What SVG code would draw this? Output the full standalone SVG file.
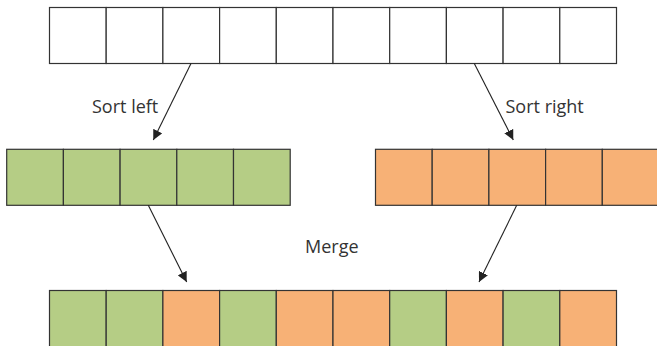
<svg xmlns="http://www.w3.org/2000/svg" width="657" height="346" viewBox="0 0 657 346">
<defs>
<style>
.c{stroke:#333;stroke-width:1.2}
.w{fill:#fff}
.g{fill:#b5cd85}
.o{fill:#f7b176}
.t{font-family:"Open Sans","Liberation Sans",sans-serif;font-size:18px;fill:#333}
.a{stroke:#222;stroke-width:1.1;fill:none;marker-end:url(#ah)}
</style>
<marker id="ah" viewBox="0 0 10 10" refX="10" refY="5" markerWidth="10" markerHeight="10" markerUnits="userSpaceOnUse" orient="auto">
<path d="M0,0 L10,5 L0,10 z" fill="#222"/>
</marker>
</defs>
<g id="top">
<rect class="c w" x="49.5" y="7.5" width="56.7" height="56"/>
<rect class="c w" x="106.2" y="7.5" width="56.7" height="56"/>
<rect class="c w" x="162.9" y="7.5" width="56.7" height="56"/>
<rect class="c w" x="219.6" y="7.5" width="56.7" height="56"/>
<rect class="c w" x="276.3" y="7.5" width="56.7" height="56"/>
<rect class="c w" x="333" y="7.5" width="56.7" height="56"/>
<rect class="c w" x="389.7" y="7.5" width="56.7" height="56"/>
<rect class="c w" x="446.4" y="7.5" width="56.7" height="56"/>
<rect class="c w" x="503.1" y="7.5" width="56.7" height="56"/>
<rect class="c w" x="559.8" y="7.5" width="56.7" height="56"/>
</g>
<g id="left">
<rect class="c g" x="6.7" y="149.3" width="56.7" height="56"/>
<rect class="c g" x="63.4" y="149.3" width="56.7" height="56"/>
<rect class="c g" x="120.1" y="149.3" width="56.7" height="56"/>
<rect class="c g" x="176.8" y="149.3" width="56.7" height="56"/>
<rect class="c g" x="233.5" y="149.3" width="56.7" height="56"/>
</g>
<g id="right">
<rect class="c o" x="375.5" y="149.3" width="56.7" height="56"/>
<rect class="c o" x="432.2" y="149.3" width="56.7" height="56"/>
<rect class="c o" x="488.9" y="149.3" width="56.7" height="56"/>
<rect class="c o" x="545.6" y="149.3" width="56.7" height="56"/>
<rect class="c o" x="602.3" y="149.3" width="56.7" height="56"/>
</g>
<g id="bottom">
<rect class="c g" x="49.5" y="290.5" width="56.7" height="60"/>
<rect class="c g" x="106.2" y="290.5" width="56.7" height="60"/>
<rect class="c o" x="162.9" y="290.5" width="56.7" height="60"/>
<rect class="c g" x="219.6" y="290.5" width="56.7" height="60"/>
<rect class="c o" x="276.3" y="290.5" width="56.7" height="60"/>
<rect class="c o" x="333" y="290.5" width="56.7" height="60"/>
<rect class="c g" x="389.7" y="290.5" width="56.7" height="60"/>
<rect class="c o" x="446.4" y="290.5" width="56.7" height="60"/>
<rect class="c g" x="503.1" y="290.5" width="56.7" height="60"/>
<rect class="c o" x="559.8" y="290.5" width="56.7" height="60"/>
</g>
<g id="connectors">
<line class="a" x1="191" y1="63.5" x2="153.3" y2="140"/>
<line class="a" x1="474.3" y1="63.5" x2="513.3" y2="140"/>
<line class="a" x1="148.3" y1="205.3" x2="186.7" y2="282"/>
<line class="a" x1="516.7" y1="205.3" x2="479" y2="282"/>
</g>
<g id="labels">
<text class="t" x="92" y="113">Sort left</text>
<text class="t" x="505.5" y="113">Sort right</text>
<text class="t" x="305" y="252.5">Merge</text>
</g>
</svg>
